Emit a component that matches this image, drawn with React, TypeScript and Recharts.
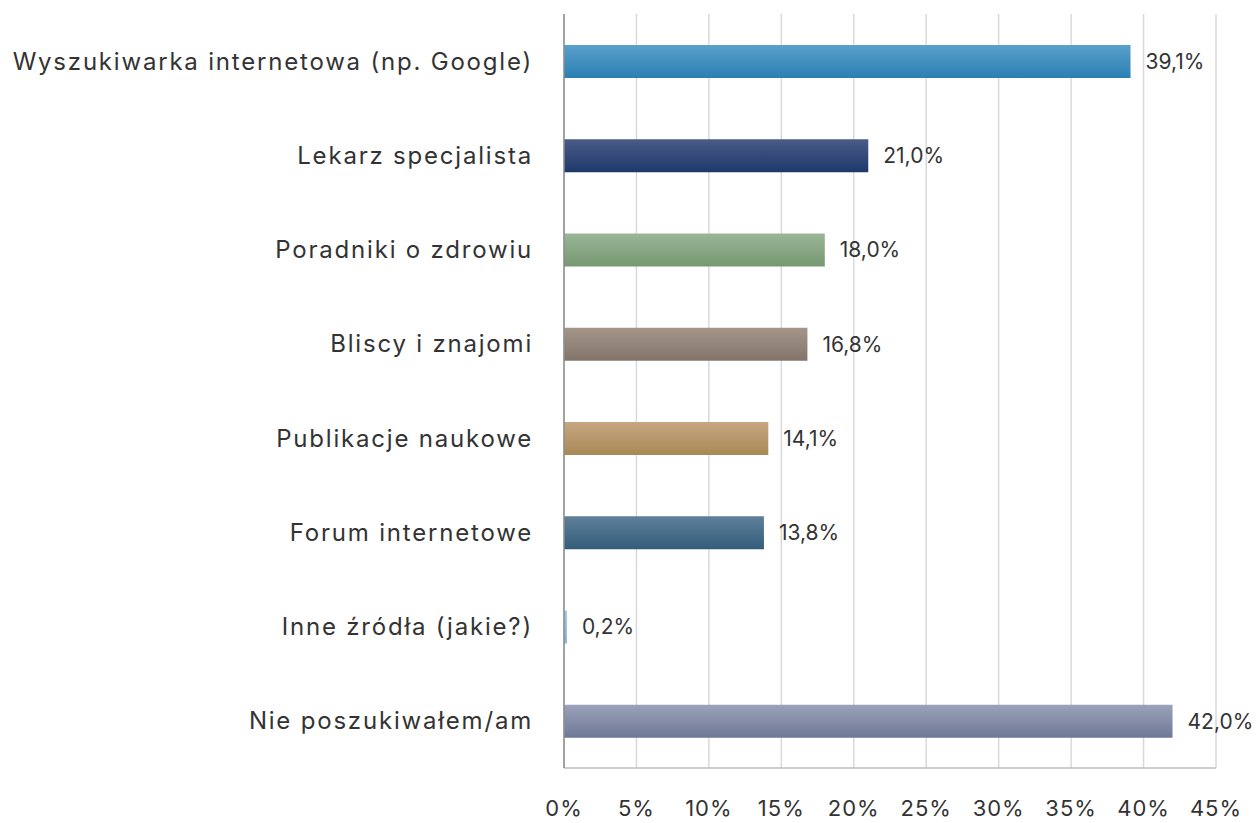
import {
  Bar,
  BarChart,
  CartesianGrid,
  Cell,
  LabelList,
  XAxis,
  YAxis,
} from "recharts";

const categories = [
  "Wyszukiwarka internetowa (np. Google)",
  "Lekarz specjalista",
  "Poradniki o zdrowiu",
  "Bliscy i znajomi",
  "Publikacje naukowe",
  "Forum internetowe",
  "Inne źródła (jakie?)",
  "Nie poszukiwałem/am",
];

const values = [39.1, 21.0, 18.0, 16.8, 14.1, 13.8, 0.2, 42.0];

const xTicks = [0, 5, 10, 15, 20, 25, 30, 35, 40, 45];

// top / bottom colour of each bar's gradient
const barColors: Array<[string, string]> = [
  ["#5ba0cb", "#2a7fb3"],
  ["#4b5b86", "#1e386b"],
  ["#9ab697", "#759871"],
  ["#a49689", "#83746a"],
  ["#c6a782", "#a98856"],
  ["#5f809a", "#325d7a"],
  ["#9cc8e6", "#7fb4da"],
  ["#9ca2ba", "#6e7896"],
];

const data = categories.map((name, i) => ({ name, value: values[i] }));

const FONT = "Inter, 'Noto Sans', sans-serif";

const fmt = (v: number) => `${v.toFixed(1).replace(".", ",")}%`;

export default function App() {
  return (
    <div style={{ position: "absolute", left: 0, top: 0, background: "#fff" }}>
      <BarChart
        width={1258}
        height={823}
        data={data}
        layout="vertical"
        margin={{ top: 14, right: 42, bottom: 0, left: 0 }}
      >
        <defs>
          {barColors.map(([top, bottom], i) => (
            <linearGradient key={i} id={`grad${i}`} x1="0" y1="0" x2="0" y2="1">
              <stop offset="0%" stopColor={top} />
              <stop offset="100%" stopColor={bottom} />
            </linearGradient>
          ))}
        </defs>
        <CartesianGrid horizontal={false} stroke="#d9d9d9" strokeWidth={1.5} />
        <XAxis
          type="number"
          domain={[0, 45]}
          ticks={xTicks}
          tickFormatter={(v) => `${v}%`}
          axisLine={{ stroke: "#bfbfbf", strokeWidth: 1.5 }}
          tickLine={false}
          tickSize={0}
          tickMargin={32}
          height={55}
          tick={{ fill: "#333", fontSize: 22, fontFamily: FONT, letterSpacing: 1 }}
          interval={0}
        />
        <YAxis
          type="category"
          dataKey="name"
          width={564}
          axisLine={{ stroke: "#8c8c8c", strokeWidth: 1.5 }}
          tickLine={false}
          tickSize={0}
          tickMargin={31}
          tick={{ fill: "#333", fontSize: 24, fontFamily: FONT, letterSpacing: 1.8 }}
          interval={0}
        />
        <Bar dataKey="value" barSize={33} isAnimationActive={false}>
          {data.map((d, i) => (
            <Cell key={d.name} fill={`url(#grad${i})`} />
          ))}
          <LabelList
            dataKey="value"
            position="right"
            offset={15}
            formatter={(v: number) => fmt(v)}
            style={{ fill: "#333", fontSize: 21, fontFamily: FONT }}
          />
        </Bar>
      </BarChart>
    </div>
  );
}
